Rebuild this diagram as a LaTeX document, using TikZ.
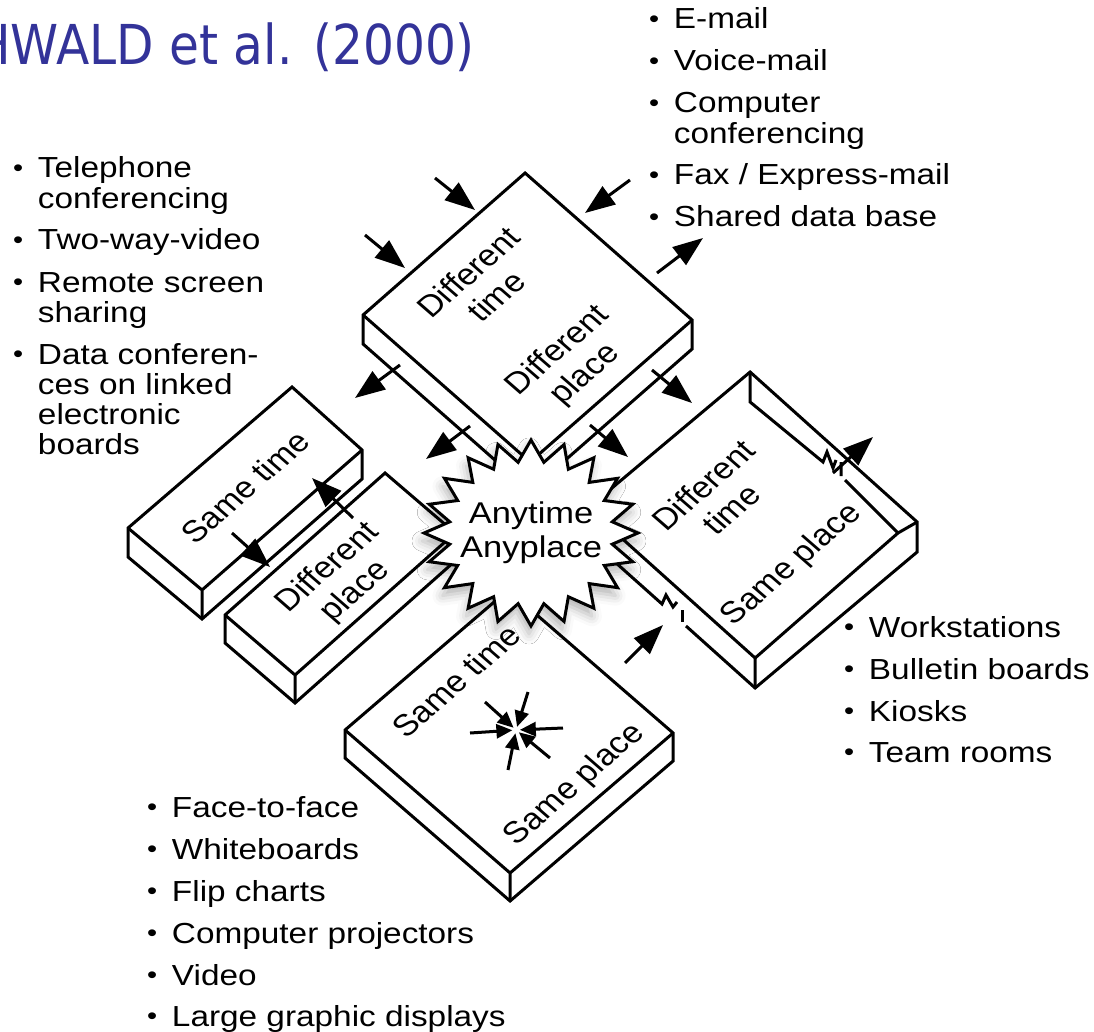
\documentclass[tikz,border=0pt]{standalone}
\usepackage{fontspec}
\setmainfont{Liberation Sans}
\newfontfamily\titlefont{DejaVu Sans}
\usetikzlibrary{arrows.meta,calc,shapes.geometric,shadows.blur}

\definecolor{titleblue}{RGB}{51,51,153}

% a flat block seen from above: top, right, bottom, left corner, thickness
\newcommand\drawslab[5]{%
  \filldraw[outline,fill=white] (#1) -- (#2) -- ++(0,#5) -- ($(#3)+(0,#5)$)
    -- ($(#4)+(0,#5)$) -- (#4) -- cycle;
  \draw[outline] (#4) -- (#3) -- (#2) (#3) -- ++(0,#5);}
\newcommand\bitem[1]{\raisebox{1.2pt}{\fontsize{25}{25}\selectfont\textbullet}%
  \hspace{.44em}\begin{tabular}[t]{@{}l@{}}#1\end{tabular}}

\tikzset{
  outline/.style={line width=3pt, line join=miter},
  bigarrow/.style={line width=3pt, -{Triangle[length=30pt,width=22pt]}},
  tinyarrow/.style={line width=3pt, -{Triangle[length=16pt,width=14pt]}},
  facetext/.style={rotate=45, align=center, inner sep=0pt,
    font=\fontsize{30}{34}\selectfont},
  listitem/.style={anchor=base west, inner sep=0pt,
    font=\fontsize{29}{30}\selectfont},
}

\begin{document}
\begin{tikzpicture}[x=0.869565pt, y=-1pt, xscale=1.15,
  every node/.style={transform shape}]
\useasboundingbox (0,0) rectangle (1094,1032);
\clip (0,0) rectangle (1094,1032);

% corners of the blocks
\coordinate (st-t) at (292,387); \coordinate (st-r) at (362,450);
\coordinate (st-b) at (202,590); \coordinate (st-l) at (128,528);
\coordinate (dp-t) at (385,473); \coordinate (dp-r) at (455,533);
\coordinate (dp-b) at (295,675); \coordinate (dp-l) at (225,615);
\coordinate (dd-t) at (525,173); \coordinate (dd-r) at (692,320);
\coordinate (dd-b) at (530,462); \coordinate (dd-l) at (363,315);
\coordinate (ss-t) at (508,590); \coordinate (ss-r) at (673,733);
\coordinate (ss-b) at (510,873); \coordinate (ss-l) at (345,730);
\coordinate (ds-t) at (750,372); \coordinate (ds-r) at (917,522);
\coordinate (ds-b) at (755,658); \coordinate (ds-l) at (588,508);

\drawslab{st-t}{st-r}{st-b}{st-l}{29}
\drawslab{dp-t}{dp-r}{dp-b}{dp-l}{28}
\drawslab{dd-t}{dd-r}{dd-b}{dd-l}{29}
\drawslab{ss-t}{ss-r}{ss-b}{ss-l}{28}

% the room on the right: rim, floor line along the back wall, two doors
\fill[white] (ds-t) -- (ds-r) -- ++(0,30) -- ($(ds-b)+(0,30)$)
  -- ($(ds-l)+(0,30)$) -- (ds-l) -- cycle;
\draw[outline] (ds-l) -- (ds-t) -- (ds-r) -- ++(0,30) -- ($(ds-b)+(0,30)$)
  -- (686,626);
\draw[outline] (682,610) -- (682,622);
\draw[outline] ($(ds-l)+(0,30)$) -- (662,604) -- (666,595) -- (673,607) -- (677,602);
\draw[outline] (ds-l) -- (ds-b) -- ++(0,30);
\draw[outline] (ds-b) -- (898,533) -- (ds-r);
\draw[outline] (ds-t) -- ++(0,30) -- (823,462) -- (827,452) -- (833,468) -- (836,460);
\draw[outline] (841,462) -- (841,476) (845,480) -- (898,533);

% hub in the middle
\node[star, star points=20, star point ratio=1.3, minimum size=186pt,
  inner sep=0pt, outline, draw, fill=white,
  blur shadow={shadow xshift=-2pt, shadow yshift=-8pt,
    shadow blur radius=10pt, shadow opacity=30}] (hub) at (531,533) {};
\node[align=center, font=\fontsize{30}{34}\selectfont] (hubtext) at (hub) {Anytime\\Anyplace};

% block labels
\node[facetext] (dd-time) at (482,284) {Different\\time};
\node[facetext] (dd-place) at (572,363) {Different\\place};
\node[facetext] (st-time) at (245,487) {Same time};
\node[facetext] (dp-place) at (342,580) {Different\\place};
\node[facetext] (ds-time) at (717,497) {Different\\time};
\node[facetext] (ds-place) at (792,565) {Same place};
\node[facetext] (ss-time) at (456,681) {Same time};
\node[facetext] (ss-place) at (575,785) {Same place};

% people meeting face to face
\coordinate (meet) at (516,730);
\foreach \px/\py in {485/702, 550/758, 470/733, 563/728, 528/692, 508/770}
  \draw[tinyarrow] (\px,\py) -- ($(meet)!0.08!(\px,\py)$);

% flows between the settings
\foreach \xa/\ya/\xb/\yb in {365/235/405/268, 435/178/475/210,
    630/180/585/213, 657/273/703/238, 400/365/355/398, 470/426/426/459,
    652/370/692/403, 590/425/628/457, 353/518/312/478, 232/533/270/567,
    625/663/663/625, 833/473/873/437}
  \draw[bigarrow] (\xa,\ya) -- (\xb,\yb);

% media lists
\node[listitem] (email) at (649,29) {\bitem{E-mail}};
\node[listitem] (voice) at (649,71) {\bitem{Voice-mail}};
\node[listitem] (confer) at (649,113) {\bitem{Computer\\conferencing}};
\node[listitem] (fax) at (649,185) {\bitem{Fax / Express-mail}};
\node[listitem] (shared) at (649,227) {\bitem{Shared data base}};

\node[listitem] (phone) at (13,178) {\bitem{Telephone\\conferencing}};
\node[listitem] (video2) at (13,250) {\bitem{Two-way-video}};
\node[listitem] (screen) at (13,292) {\bitem{Remote screen\\sharing}};
\node[listitem] (boards) at (13,364) {\bitem{Data conferen-\\ces on linked\\electronic\\boards}};

\node[listitem] (work) at (844,637) {\bitem{Workstations}};
\node[listitem] (bulletin) at (844,679) {\bitem{Bulletin boards}};
\node[listitem] (kiosk) at (844,721) {\bitem{Kiosks}};
\node[listitem] (team) at (844,762) {\bitem{Team rooms}};

\node[listitem] (face) at (147,817) {\bitem{Face-to-face}};
\node[listitem] (white) at (147,859) {\bitem{Whiteboards}};
\node[listitem] (flip) at (147,901) {\bitem{Flip charts}};
\node[listitem] (proj) at (147,943) {\bitem{Computer projectors}};
\node[listitem] (video) at (147,985) {\bitem{Video}};
\node[listitem] (large) at (147,1026) {\bitem{Large graphic displays}};

\node[anchor=base west, inner sep=0pt, text=titleblue, xscale=0.769,
  font=\titlefont\fontsize{55}{60}\selectfont] (title) at (-26,65) {HWALD et al. (2000)};
\end{tikzpicture}
\end{document}
